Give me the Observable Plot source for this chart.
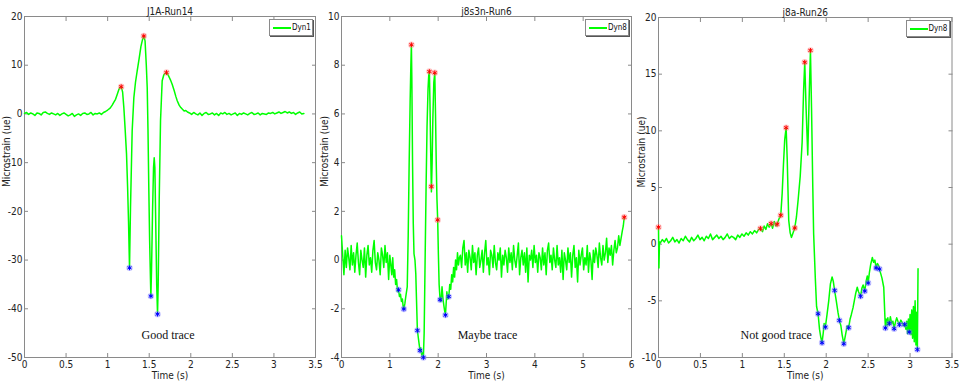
<!DOCTYPE html>
<html>
<head>
<meta charset="utf-8">
<script src="https://cdn.jsdelivr.net/npm/d3@7"></script>
<script src="https://cdn.jsdelivr.net/npm/@observablehq/plot@0.6"></script>
<style>
  body { margin: 0; background: #fff; }
  #wrap { position: relative; width: 959px; height: 384px; overflow: hidden; background: #fff; }
  .panel { position: absolute; top: 0; }
  .panel svg { overflow: visible; }
  .legend { position: absolute; height: 17px; background: #fff; border: 1px solid #8a8a8a; box-shadow: 1px 1px 0 #555;
            font: 8px "Liberation Sans Narrow", "DejaVu Sans Condensed", "Liberation Sans", Arial, sans-serif; color: #111; box-sizing: border-box; }
  .legend .sw { position: absolute; left: 3px; top: 7px; width: 18px; height: 2px; background: #00ff00; }
  .legend .lb { position: absolute; left: 22px; top: 3px; }
</style>
</head>
<body>
<div id="wrap"></div>
<script>
// ---------- DATA ----------
const titles = ["J1A-Run14", "j8s3n-Run6", "j8a-Run26"];
const seriesNames = ["Dyn1", "Dyn8", "Dyn8"];
const notes = ["Good trace", "Maybe trace", "Not good trace"];
const xLabel = "Time (s)";
const yLabel = "Microstrain (ue)";

const p1XTicks = [0, 0.5, 1, 1.5, 2, 2.5, 3, 3.5];
const p1YTicks = [-50, -40, -30, -20, -10, 0, 10, 20];
const p2XTicks = [0, 1, 2, 3, 4, 5, 6];
const p2YTicks = [-4, -2, 0, 2, 4, 6, 8, 10];
const p3XTicks = [0, 0.5, 1, 1.5, 2, 2.5, 3, 3.5];
const p3YTicks = [-10, -5, 0, 5, 10, 15, 20];

// Panel 1 (J1A-Run14)
const p1NoiseA = { start: 0, step: 0.025, values: [
  0.1, 0.3, -0.1, 0.2, 0.0, -0.3, 0.2, 0.1, -0.2, 0.3, 0.4, 0.1, -0.1, 0.2, 0.0, -0.2, 0.1, -0.3, 0.0, 0.2,
  -0.1, -0.4, -0.2, 0.1, -0.5, -0.2, 0.0, -0.3, 0.1, 0.2, -0.1, 0.0, 0.3, -0.2, 0.1, 0.0, 0.2, -0.1, 0.3, 0.5] };
const p1Event = [
  [1.0,0.8],[1.03,1.2],[1.055,1.8],[1.075,2.4],[1.095,3.0],[1.115,4.0],[1.135,5.0],[1.15,5.5],[1.163,5.6],
  [1.18,4.5],[1.195,1.3],[1.21,-3],[1.227,-8.2],[1.24,-15],[1.251,-22],[1.263,-31.6],[1.275,-19.2],[1.295,-3.5],
  [1.315,3.3],[1.335,6.5],[1.355,8.8],[1.38,11.5],[1.40,13.8],[1.42,15.3],[1.435,16.0],[1.45,15.0],[1.465,10],
  [1.476,5.4],[1.485,-3],[1.495,-15.1],[1.505,-26],[1.515,-34],[1.52,-37.4],[1.528,-32],[1.54,-20],[1.552,-11],
  [1.56,-9.0],[1.568,-11],[1.578,-22],[1.59,-35],[1.60,-41.1],[1.608,-35],[1.62,-18],[1.636,-1.4],[1.656,6.8],
  [1.675,8.0],[1.69,8.3],[1.708,8.5],[1.73,7.9],[1.755,7.0],[1.776,6.1],[1.80,4.8],[1.82,3.6],[1.837,2.7],
  [1.86,1.8],[1.88,1.3],[1.897,1.0],[1.92,0.6],[1.94,0.7],[1.96,0.4]];
const p1NoiseB = { start: 1.985, step: 0.025, values: [
  0.2, -0.1, 0.3, 0.0, -0.2, 0.2, -0.3, 0.1, 0.3, -0.1, 0.0, 0.2, -0.2, 0.1, -0.3, 0.2, 0.0, 0.3, -0.1, 0.1,
  -0.2, 0.0, 0.2, -0.3, 0.1, -0.1, 0.2, 0.0, -0.2, 0.1, 0.3, -0.1, 0.0, 0.2, -0.2, 0.1, 0.0, -0.1, 0.2, 0.1,
  0.3, 0.0, 0.2, 0.4, 0.1, 0.3, 0.5, 0.2, 0.4, 0.1, 0.3, -0.1, 0.2, 0.4, 0.0, 0.1] };
const p1Peaks = [[1.163,5.6],[1.435,16.0],[1.708,8.5]];
const p1Valleys = [[1.263,-31.6],[1.52,-37.4],[1.60,-41.1]];

// Panel 2 (j8s3n-Run6)
const p2NoiseA = { start: 0, step: 0.025, values: [
  1.0, 0.2, -0.6, 0.4, -0.3, 0.5, 0.1, -0.4, 0.6, -0.2, 0.3, -0.5, 0.2, 0.7, -0.1, -0.6, 0.4, 0.0, -0.3, 0.5,
  -0.7, 0.2, 0.6, -0.2, 0.1, -0.5, 0.4, 0.8, -0.1, -0.4, 0.3, 0.0, -0.6, 0.5, 0.2, -0.3, 0.6, -0.1, 0.3, -0.8, 0.2] };
const p2Event = [
  [1.02,-0.2],[1.04,-0.6],[1.06,0.1],[1.08,-0.7],[1.10,-0.4],[1.12,-1.0],[1.14,-0.8],[1.16,-1.3],[1.18,-1.22],
  [1.20,-1.5],[1.22,-1.4],[1.24,-1.7],[1.26,-1.6],[1.28,-2.0],[1.29,-2.01],[1.31,-1.8],[1.33,-1.5],[1.36,-1.1],
  [1.38,1.0],[1.40,4.0],[1.42,6.5],[1.435,8.0],[1.446,8.84],[1.455,7.5],[1.47,4.0],[1.485,1.5],[1.50,0.26],
  [1.52,0.0],[1.537,-0.56],[1.55,-1.5],[1.57,-2.89],[1.59,-3.2],[1.61,-3.5],[1.624,-3.71],[1.64,-3.6],[1.66,-3.9],
  [1.68,-3.8],[1.694,-4.0],[1.71,-3.0],[1.73,0.0],[1.75,3.0],[1.77,5.5],[1.79,7.0],[1.805,7.6],[1.818,7.74],
  [1.83,6.5],[1.845,4.5],[1.86,2.8],[1.875,4.0],[1.89,5.8],[1.91,7.3],[1.93,7.69],[1.945,6.0],[1.96,4.0],
  [1.975,2.5],[1.99,1.65],[2.005,0.2],[2.02,-1.0],[2.04,-1.63],[2.06,-1.7],[2.08,-1.1],[2.10,-1.6],[2.12,-1.9],
  [2.135,-2.1],[2.15,-2.26],[2.165,-1.8],[2.18,-1.3],[2.20,-1.6],[2.22,-1.5],[2.24,-1.0],[2.26,-1.2],[2.28,-0.6],
  [2.30,-0.9],[2.32,-0.3],[2.34,-0.7],[2.36,0.0],[2.38,-0.4],[2.40,0.3],[2.42,-0.2],[2.44,0.1]];
const p2NoiseB = { start: 2.46, step: 0.025, values: [
  0.2, -0.3, 0.5, 0.8, -0.2, 0.3, -0.5, 0.4, 0.1, -0.4,
  0.6, -0.1, 0.3, -0.6, 0.2, 0.5, -0.3, 0.0, 0.4, -0.5,
  0.3, 0.8, -0.2, 0.1, -0.6, 0.4, 0.2, -0.3, 0.6, -0.1,
  -0.4, 0.3, 0.0, 0.5, -0.7, 0.2, -0.2, 0.4, 0.1, -0.5,
  0.5, -0.1, 0.3, -0.4, 0.6, 0.0, -0.3, 0.2, 0.7, -0.6,
  0.1, 0.4, -0.2, 0.3, -0.5, 0.5, -0.9, 0.2, 0.0, 0.4,
  -0.3, 0.6, -0.1, 0.2, -0.5, 0.3, 0.1, -0.4, 0.5, -0.2,
  0.3, -0.6, 0.4, 0.7, -0.1, 0.2, -0.4, 0.5, 0.0, -0.3,
  0.6, -0.2, 0.1, -0.5, 0.4, -0.8, 0.3, 0.0, -0.4, 0.5,
  -0.1, 0.3, -0.7, 0.2, 0.6, -0.3, 0.1, -0.9, 0.4, -0.2,
  0.2, 0.5, -0.4, 0.1, -0.2, 0.6, -0.5, 0.3, 0.0, -0.8,
  0.4, -0.1, 0.5, 0.2, -0.3, 0.7, 0.1, -0.2, 0.6, 0.0,
  0.3, 0.9, -0.1, 0.5, 0.2, 0.6, -0.2, 0.4, 0.8, 0.3, 0.5, 1.0, 0.6, 0.9, 1.2] };
const p2End = [[5.83,1.4],[5.85,1.76]];
const p2Peaks = [[1.446,8.84],[1.818,7.74],[1.86,3.02],[1.93,7.69],[1.99,1.65],[5.85,1.76]];
const p2Valleys = [[1.18,-1.22],[1.29,-2.01],[1.57,-2.89],[1.624,-3.71],[1.694,-4.0],[2.04,-1.63],[2.15,-2.26],[2.22,-1.5]];

// Panel 3 (j8a-Run26)
const p3Start = [[0,1.5],[0.005,-2.1],[0.012,0.2]];
const p3NoiseA = { start: 0.02, step: 0.025, values: [
  0.1, 0.4, 0.2, 0.5, 0.1, 0.3, 0.6, 0.2, 0.4, 0.1,
  0.5, 0.3, 0.7, 0.4, 0.2, 0.6, 0.3, 0.5, 0.8, 0.4,
  0.6, 0.3, 0.7, 0.5, 0.9, 0.4, 0.6, 0.8, 0.5, 0.7,
  0.4, 0.6, 0.9, 0.5, 0.7, 0.6, 0.4, 0.8, 0.6, 0.9,
  0.7, 1.0, 0.8, 1.1, 0.9, 1.2, 1.0, 1.3] };
const p3Event = [
  [1.216,1.38],[1.24,1.1],[1.26,1.6],[1.28,1.3],[1.30,1.8],[1.32,1.5],[1.343,1.82],[1.36,1.4],[1.38,2.0],
  [1.40,1.6],[1.415,1.76],[1.435,2.2],[1.458,2.55],[1.475,4.5],[1.49,7.0],[1.505,9.2],[1.522,10.28],[1.535,7.5],
  [1.553,2.1],[1.57,1.0],[1.585,0.6],[1.60,0.9],[1.625,1.43],[1.645,2.4],[1.665,3.9],[1.69,6.0],[1.713,9.0],
  [1.73,13.5],[1.744,16.05],[1.76,12.0],[1.78,7.86],[1.795,12.5],[1.812,17.1],[1.825,12.0],[1.84,5.0],[1.85,0.94],
  [1.87,-3.0],[1.885,-5.5],[1.903,-6.14],[1.92,-7.5],[1.935,-8.2],[1.95,-8.7],[1.965,-7.8],[1.975,-7.0],[1.99,-7.32],
  [2.01,-6.2],[2.03,-5.0],[2.05,-3.5],[2.07,-2.9],[2.085,-3.3],[2.10,-4.08],[2.12,-5.0],[2.14,-6.0],[2.157,-6.73],
  [2.175,-7.2],[2.19,-8.0],[2.21,-8.79],[2.23,-8.0],[2.25,-7.2],[2.268,-7.37],[2.285,-6.6],[2.30,-6.2],[2.32,-5.6],
  [2.335,-5.0],[2.35,-4.4],[2.37,-3.8],[2.385,-4.2],[2.41,-4.6],[2.425,-3.9],[2.44,-3.6],[2.46,-4.14],[2.475,-3.3],
  [2.49,-2.8],[2.50,-3.43],[2.515,-2.5],[2.53,-1.8],[2.55,-1.18],[2.565,-1.6],[2.58,-1.4],[2.595,-2.1],[2.61,-1.7],
  [2.625,-1.9],[2.634,-2.19],[2.65,-2.6],[2.665,-3.0],[2.686,-3.8],[2.70,-6.44],[2.706,-7.4],[2.715,-6.6],
  [2.725,-7.2],[2.735,-6.5],[2.745,-7.1],[2.753,-7.0],[2.765,-6.4],[2.78,-7.0],[2.795,-6.8],[2.81,-7.46],
  [2.825,-6.9],[2.84,-6.5],[2.855,-6.8],[2.873,-7.1],[2.89,-6.7],[2.905,-6.9],[2.92,-7.2],[2.936,-7.08],
  [2.95,-7.5],[2.96,-6.8],[2.97,-7.9],[2.98,-6.6],[2.99,-7.76],[3.00,-6.2],[3.01,-8.0],[3.02,-5.8],[3.03,-8.3],
  [3.04,-5.5],[3.05,-8.6],[3.06,-5.0],[3.07,-8.9],[3.08,-6.0],[3.087,-9.3],[3.095,-2.16]];
const p3Peaks = [[0,1.5],[1.216,1.38],[1.343,1.82],[1.415,1.76],[1.458,2.55],[1.522,10.28],[1.625,1.43],[1.744,16.05],[1.812,17.1]];
const p3Valleys = [[1.903,-6.14],[1.95,-8.7],[1.99,-7.32],[2.10,-4.08],[2.157,-6.73],[2.21,-8.79],[2.268,-7.37],
  [2.41,-4.6],[2.46,-4.14],[2.50,-3.43],[2.595,-2.1],[2.634,-2.19],[2.706,-7.4],[2.753,-7.0],[2.81,-7.46],
  [2.873,-7.1],[2.936,-7.08],[2.99,-7.76],[3.087,-9.3]];

// ---------- BUILD ----------
const seg = s => s.values.map((v, i) => ({ t: s.start + i * s.step, v }));
const pts = a => a.map(([t, v]) => ({ t, v }));

const traces = [
  [...seg(p1NoiseA), ...pts(p1Event), ...seg(p1NoiseB)],
  [...seg(p2NoiseA), ...pts(p2Event), ...seg(p2NoiseB), ...pts(p2End)],
  [...pts(p3Start), ...seg(p3NoiseA), ...pts(p3Event)]
];
const peaks = [pts(p1Peaks), pts(p2Peaks), pts(p3Peaks)];
const valleys = [pts(p1Valleys), pts(p2Valleys), pts(p3Valleys)];
const xTicks = [p1XTicks, p2XTicks, p3XTicks];
const yTicks = [p1YTicks, p2YTicks, p3YTicks];

const FONT = '"Liberation Sans Narrow", "DejaVu Sans Condensed", "Liberation Sans", Arial, sans-serif';
const layout = [
  { left: 0,   width: 318, ml: 24, mr: 3,   mt: 16, noteDx: -2 },
  { left: 318, width: 318, ml: 23, mr: 5,   mt: 16, noteDx: 1 },
  { left: 635, width: 324, ml: 23, mr: 7.5, mt: 17, noteDx: -29 }
];
const fmt = d => String(d);
const axisGray = "#8a8a8a";

const wrap = document.getElementById("wrap");
layout.forEach((L, k) => {
  const xt = xTicks[k], yt = yTicks[k];
  const chart = Plot.plot({
    width: L.width, height: 384,
    marginLeft: L.ml, marginRight: L.mr, marginTop: L.mt, marginBottom: 27,
    style: { background: "transparent", overflow: "visible", fontFamily: FONT, fontSize: "10px", color: "#222" },
    x: { domain: [xt[0], xt[xt.length - 1]] },
    y: { domain: [yt[0], yt[yt.length - 1]] },
    marks: [
      Plot.frame({ stroke: axisGray }),
      Plot.axisX(xt, { anchor: "bottom", tickSize: -4, tickPadding: 7, tickFormat: fmt, label: null, stroke: axisGray, fill: "#222" }),
      Plot.axisX(xt, { anchor: "top", tickSize: -4, tickFormat: () => "", label: null, stroke: axisGray }),
      Plot.axisY(yt, { anchor: "left", tickSize: -4, tickPadding: 6, tickFormat: fmt, label: null, stroke: axisGray, fill: "#222" }),
      Plot.axisY(yt, { anchor: "right", tickSize: -4, tickFormat: () => "", label: null, stroke: axisGray }),
      Plot.line(traces[k], { x: "t", y: "v", stroke: "#00ff00", strokeWidth: 1.5 }),
      Plot.dot(peaks[k], { x: "t", y: "v", r: 3.2, fill: "#ff8080", fillOpacity: 0.45 }),
      Plot.dot(peaks[k], { x: "t", y: "v", symbol: "asterisk", r: 2.2, stroke: "#ff0000", strokeWidth: 1 }),
      Plot.dot(valleys[k], { x: "t", y: "v", r: 3.2, fill: "#8080ff", fillOpacity: 0.45 }),
      Plot.dot(valleys[k], { x: "t", y: "v", symbol: "asterisk", r: 2.2, stroke: "#0000ff", strokeWidth: 1 }),
      Plot.text([titles[k]], { frameAnchor: "top", dy: -9, fill: "#222" }),
      Plot.text([xLabel], { frameAnchor: "bottom", dy: 21, fill: "#222" }),
      Plot.text([yLabel], { frameAnchor: "left", dx: -(L.ml - 6), rotate: -90, fill: "#222" }),
      Plot.text([notes[k]], { frameAnchor: "bottom", dy: -19, dx: L.noteDx, fontFamily: '"Liberation Serif", "DejaVu Serif", serif', fontSize: 12, fill: "#111" })
    ]
  });
  const div = document.createElement("div");
  div.className = "panel";
  div.style.left = L.left + "px";
  div.appendChild(chart);
  wrap.appendChild(div);

  const lg = document.createElement("div");
  lg.className = "legend";
  lg.style.width = "44px";
  lg.style.left = (L.left + L.width - L.mr - 46) + "px";
  lg.style.top = (L.mt + 3) + "px";
  lg.innerHTML = '<div class="sw"></div><div class="lb"></div>';
  lg.querySelector(".lb").textContent = seriesNames[k];
  wrap.appendChild(lg);
});
</script>
</body>
</html>
